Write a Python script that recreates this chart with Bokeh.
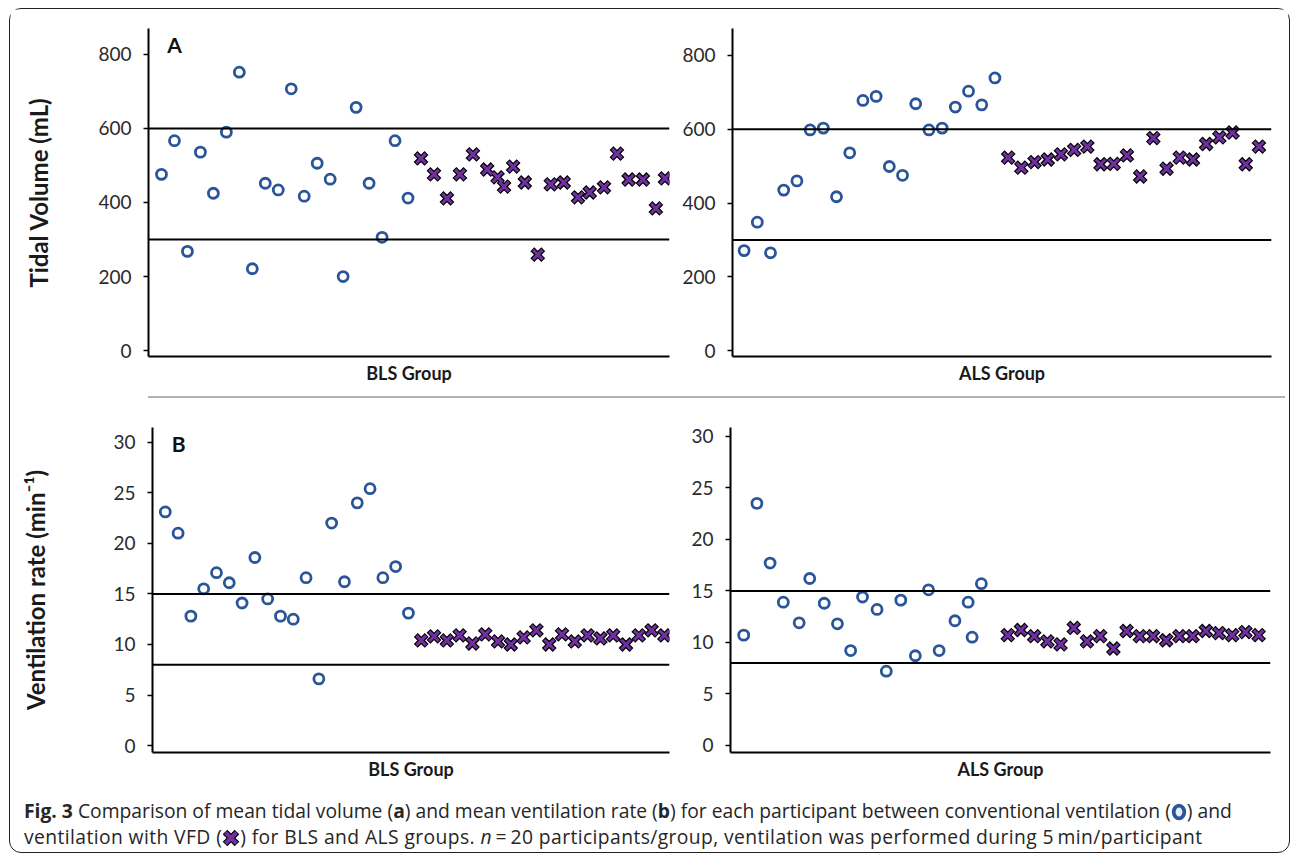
from bokeh.plotting import figure
from bokeh.models import Range1d, Span, Label, Div, FixedTicker
from bokeh.layouts import column, row
from bokeh.embed import file_html
from bokeh.resources import INLINE

# ---------------- data ----------------
# Tidal volume (mL), BLS group
tv_bls_conv_x = list(range(1, 21))
tv_bls_conv = [476, 567, 268, 536, 425, 590, 752, 221, 452, 434,
               707, 417, 506, 463, 200, 657, 452, 306, 567, 412]
tv_bls_vfd_x = [21.0, 22.0, 23.0, 24.0, 25.0, 26.1, 26.9, 27.4, 28.1, 29.0, 30.0,
                31.0, 32.0, 33.1, 34.0, 35.1, 36.1, 37.0, 38.1, 39.1, 39.8]
tv_bls_vfd = [519, 476, 411, 476, 530, 489, 468, 443, 497, 454, 259,
              449, 454, 414, 427, 441, 532, 462, 462, 384, 465]

# Tidal volume (mL), ALS group
tv_als_conv_x = list(range(1, 21))
tv_als_conv = [271, 348, 265, 435, 460, 598, 603, 417, 536, 678,
               689, 499, 475, 669, 598, 603, 660, 703, 666, 739]
tv_als_vfd_x = list(range(21, 41))
tv_als_vfd = [523, 496, 511, 518, 532, 544, 553, 505, 506, 529,
              472, 576, 493, 523, 518, 560, 578, 591, 505, 553]

# Ventilation rate (min-1), BLS group
vr_bls_conv_x = list(range(1, 21))
vr_bls_conv = [23.1, 21.0, 12.8, 15.5, 17.1, 16.1, 14.1, 18.6, 14.5, 12.8,
               12.5, 16.6, 6.6, 22.0, 16.2, 24.0, 25.4, 16.6, 17.7, 13.1]
vr_bls_vfd_x = list(range(21, 41))
vr_bls_vfd = [10.4, 10.8, 10.4, 10.9, 10.1, 11.0, 10.3, 10.0, 10.7, 11.4,
              10.0, 11.0, 10.3, 10.9, 10.6, 10.9, 10.0, 10.9, 11.4, 10.9]

# Ventilation rate (min-1), ALS group
vr_als_conv_x = [1.0, 2.0, 3.0, 4.0, 5.2, 6.0, 7.1, 8.1, 9.1, 10.0,
                 11.1, 11.8, 12.9, 14.0, 15.0, 15.8, 17.0, 18.0, 18.3, 19.0]
vr_als_conv = [10.7, 23.5, 17.7, 13.9, 11.9, 16.2, 13.8, 11.8, 9.2, 14.4,
               13.2, 7.2, 14.1, 8.7, 15.1, 9.2, 12.1, 13.9, 10.5, 15.7]
vr_als_vfd_x = list(range(21, 41))
vr_als_vfd = [10.7, 11.2, 10.6, 10.1, 9.8, 11.4, 10.1, 10.6, 9.4, 11.1,
              10.6, 10.6, 10.2, 10.6, 10.6, 11.1, 10.9, 10.7, 11.0, 10.7]

tv_ticks = [0, 200, 400, 600, 800]
vr_ticks = [0, 5, 10, 15, 20, 25, 30]
tv_limits = [300, 600]
vr_limits = [8, 15]

# ---------------- style ----------------
FONT = "Lato"
BLUE = "#2A5699"
PURPLE = "#7030A0"


def make_panel(width, height, xr, yr, yticks, borders, xlabel, limits,
               conv_x, conv_y, vfd_x, vfd_y, ylabel=None, ylabel_standoff=40,
               letter=None, letter_pos=None):
    p = figure(width=width, height=height,
               x_range=Range1d(*xr), y_range=Range1d(*yr),
               output_backend="svg", toolbar_location=None,
               min_border_left=borders[0], min_border_right=borders[1],
               min_border_top=borders[2], min_border_bottom=borders[3],
               background_fill_color="white", border_fill_color="white")
    p.outline_line_color = None
    p.xgrid.grid_line_color = None
    p.ygrid.grid_line_color = None

    # x axis: line + bold label only
    p.xaxis.ticker = FixedTicker(ticks=[])
    p.xaxis.minor_tick_line_color = None
    p.xaxis.major_tick_line_color = None
    p.xaxis.axis_line_width = 2
    p.xaxis.axis_line_color = "black"
    p.xaxis.axis_label = xlabel
    p.xaxis.axis_label_text_font = FONT
    p.xaxis.axis_label_text_font_style = "bold"
    p.xaxis.axis_label_text_font_size = "18px"
    p.xaxis.axis_label_text_color = "#1a1a1a"
    p.xaxis.axis_label_standoff = 5

    # y axis
    p.yaxis.ticker = FixedTicker(ticks=yticks)
    p.yaxis.minor_tick_line_color = None
    p.yaxis.major_tick_in = 0
    p.yaxis.major_tick_out = 5
    p.yaxis.major_tick_line_width = 1.5
    p.yaxis.major_tick_line_color = "black"
    p.yaxis.axis_line_width = 2
    p.yaxis.axis_line_color = "black"
    p.yaxis.major_label_text_font = FONT
    p.yaxis.major_label_text_font_size = "19px"
    p.yaxis.major_label_text_color = "#2b2b2b"
    p.yaxis.major_label_standoff = 12
    if ylabel:
        p.yaxis.axis_label = ylabel
        p.yaxis.axis_label_text_font = FONT
        p.yaxis.axis_label_text_font_style = "bold"
        p.yaxis.axis_label_text_font_size = "24px"
        p.yaxis.axis_label_text_color = "#1a1a1a"
        p.yaxis.axis_label_standoff = ylabel_standoff

    for lim in limits:
        p.add_layout(Span(location=lim, dimension="width",
                          line_color="black", line_width=2))

    p.scatter(conv_x, conv_y, marker="circle", size=10,
              fill_color="white", line_color=BLUE, line_width=2.8)
    p.scatter(vfd_x, vfd_y, marker="x", size=15.5,
              line_color="black", line_width=5.5)
    p.scatter(vfd_x, vfd_y, marker="x", size=13.5,
              line_color=PURPLE, line_width=3)

    if letter:
        p.add_layout(Label(x=letter_pos[0], y=letter_pos[1], text=letter,
                           text_font=FONT, text_font_style="bold",
                           text_font_size="21px", text_color="#111",
                           text_align="left", text_baseline="middle"))
    return p


pA_L = make_panel(662, 387, (0, 40.15), (-16, 870), tv_ticks, (138, 3, 18, 40),
                  "BLS Group", tv_limits, tv_bls_conv_x, tv_bls_conv,
                  tv_bls_vfd_x, tv_bls_vfd, ylabel="Tidal Volume (mL)",
                  ylabel_standoff=42, letter="A", letter_pos=(1.45, 827))
pA_R = make_panel(616, 387, (0.12, 40.95), (-16, 873), tv_ticks, (60, 17, 19, 38),
                  "ALS Group", tv_limits, tv_als_conv_x, tv_als_conv,
                  tv_als_vfd_x, tv_als_vfd)
pB_L = make_panel(662, 390, (0, 40.4), (-0.68, 31.45), vr_ticks, (142, 3, 20, 38),
                  "BLS Group", vr_limits, vr_bls_conv_x, vr_bls_conv,
                  vr_bls_vfd_x, vr_bls_vfd, ylabel="Ventilation rate (min\u207b\u00b9)",
                  ylabel_standoff=60, letter="B", letter_pos=(1.5, 29.9))
pB_R = make_panel(616, 390, (0.0, 40.9), (-0.7, 30.87), vr_ticks, (58, 18, 27, 37),
                  "ALS Group", vr_limits, vr_als_conv_x, vr_als_conv,
                  vr_als_vfd_x, vr_als_vfd)

sep = Div(text="", width=1137, height=4, margin=(0, 0, 0, 138),
          styles={"border-top": "2px solid #b3b3b3"})

ring_svg = ('<svg width="16" height="18" viewBox="0 0 16 18" style="vertical-align:-3px">'
            '<ellipse cx="8" cy="9" rx="5.3" ry="6.3" fill="#e6ecf6" stroke="%s" stroke-width="3.8"/></svg>' % BLUE)
x_svg = ('<svg width="18" height="18" viewBox="0 0 18 18" style="vertical-align:-3px">'
         '<path d="M3 3 L15 15 M15 3 L3 15" stroke="#000" stroke-width="6.5"/>'
         '<path d="M3.5 3.5 L14.5 14.5 M14.5 3.5 L3.5 14.5" stroke="%s" stroke-width="4"/></svg>' % PURPLE)

caption_html = (
    '<div style="font-family:\'Open Sans\',sans-serif;'
    'font-size:19.3px;line-height:26px;color:#262626;white-space:nowrap;'
    'padding:8px 0 0 14px;">'
    '<b>Fig. 3</b> Comparison of mean tidal volume (<b>a</b>) and mean ventilation rate (<b>b</b>) '
    'for each participant between conventional ventilation (' + ring_svg + ') and<br>'
    '<span style="letter-spacing:0.4px">'
    'ventilation with VFD (' + x_svg + ') for BLS and ALS groups. <i>n</i>&#8201;=&#8201;20 '
    'participants/group, ventilation was performed during 5&#8201;min/participant</span></div>'
)
caption = Div(text=caption_html, width=1279, height=62, margin=(0, 0, 0, 0))

layout = column(row(pA_L, pA_R), sep, row(pB_L, pB_R), caption,
                margin=(8, 0, 0, 9),
                styles={"border": "1.5px solid #222", "border-radius": "12px",
                        "background": "white"})

open("out.html", "w").write(file_html(layout, INLINE))
